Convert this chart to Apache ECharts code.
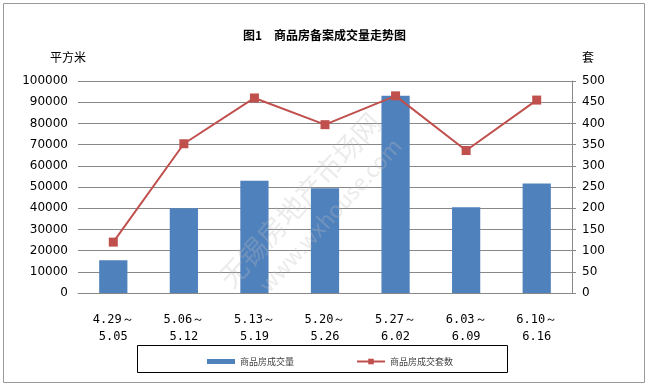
<!DOCTYPE html>
<html><head><meta charset="utf-8">
<script src="https://cdn.jsdelivr.net/npm/echarts@6/dist/echarts.min.js"></script>
<style>html,body{margin:0;padding:0;background:#fff}#c{width:649px;height:387px}</style>
</head><body><div id="c"></div>
<script>
var categories = ['4.29～\n5.05','5.06～\n5.12','5.13～\n5.19','5.20～\n5.26','5.27～\n6.02','6.03～\n6.09','6.10～\n6.16'];
var areaValues = [15500, 40000, 53000, 49400, 93000, 40400, 51600];
var unitValues = [120, 352, 460, 397, 465, 336, 455];
var seriesNames = ['商品房成交量', '商品房成交套数'];
var titleText = '图1　商品房备案成交量走势图';

var font = '"Noto Sans CJK SC", "DejaVu Sans", sans-serif';
var chart = echarts.init(document.getElementById('c'));
var plain = function (v) { return String(v); };
chart.setOption({
  animation: false,
  title: { text: titleText, left: 'center', top: 24,
    textStyle: { fontSize: 12, fontWeight: 'bold', color: '#000', fontFamily: font } },
  graphic: [
    { type: 'rect', shape: { x: 3.5, y: 3.5, width: 641, height: 379 }, style: { fill: null, stroke: '#999', lineWidth: 1 }, silent: true },
    { type: 'rect', shape: { x: 137.5, y: 345.5, width: 370, height: 27 }, style: { fill: null, stroke: '#000', lineWidth: 1 }, silent: true },
    { type: 'text', x: 300, y: 200, rotation: 0.83, style: { text: '无锡房地产市场网', font: '28px ' + font, fill: 'rgba(190,190,190,0.3)', textAlign: 'center', textVerticalAlign: 'middle' }, silent: true, z: 100 },
    { type: 'text', x: 330, y: 215, rotation: 0.83, style: { text: 'www.wxhouse.com', font: '22px ' + font, fill: 'rgba(190,190,190,0.3)', textAlign: 'center', textVerticalAlign: 'middle' }, silent: true, z: 100 }
  ],
  legend: [
    { left: 202, top: 352, itemWidth: 28, itemHeight: 5, itemGap: 4,
      textStyle: { fontSize: 9, color: '#444', fontFamily: font },
      data: [{ name: seriesNames[0], icon: 'rect', itemStyle: { color: '#4F81BD' } }] },
    { left: 351, top: 352, itemWidth: 28, itemHeight: 7, itemGap: 4,
      textStyle: { fontSize: 9, color: '#444', fontFamily: font },
      data: [{ name: seriesNames[1] }] }
  ],
  grid: { left: 78, right: 77, top: 81, bottom: 94 },
  xAxis: {
    type: 'category', data: categories,
    axisLine: { show: true, lineStyle: { color: '#888' } },
    axisTick: { show: false },
    axisLabel: { color: '#000', fontSize: 12, lineHeight: 17, margin: 18, fontFamily: '"DejaVu Sans Mono", monospace' }
  },
  yAxis: [
    { type: 'value', min: 0, max: 100000, interval: 10000, name: '平方米',
      nameLocation: 'end', nameGap: 18, nameTextStyle: { color: '#000', fontSize: 12, fontFamily: font, align: 'right', padding: [0, -8, 0, 0] },
      axisLine: { show: false }, axisTick: { show: false },
      splitLine: { lineStyle: { color: '#888' } },
      axisLabel: { color: '#000', fontSize: 12, margin: 10, formatter: plain, fontFamily: '"DejaVu Sans", sans-serif' } },
    { type: 'value', min: 0, max: 500, interval: 50, name: '套',
      nameLocation: 'end', nameGap: 18, nameTextStyle: { color: '#000', fontSize: 12, fontFamily: font, align: 'left', padding: [0, 0, 0, 10] },
      axisLine: { show: true, lineStyle: { color: '#888' } }, axisTick: { show: true, length: 4, lineStyle: { color: '#888' } },
      splitLine: { show: false },
      axisLabel: { color: '#000', fontSize: 12, margin: 10, formatter: plain, fontFamily: '"DejaVu Sans", sans-serif' } }
  ],
  series: [
    { name: seriesNames[0], type: 'bar', data: areaValues, barWidth: '40%', itemStyle: { color: '#4F81BD' } },
    { name: seriesNames[1], type: 'line', yAxisIndex: 1, data: unitValues, symbol: 'rect', symbolSize: 9,
      lineStyle: { color: '#C0504D', width: 2 }, itemStyle: { color: '#C0504D' } }
  ]
});
</script></body></html>
